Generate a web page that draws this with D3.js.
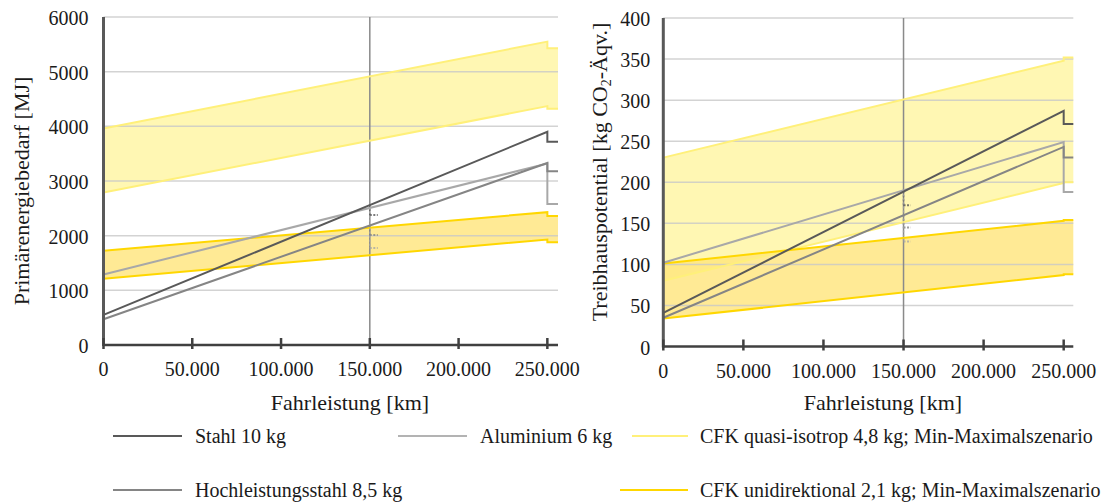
<!DOCTYPE html>
<html>
<head>
<meta charset="utf-8">
<script src="https://cdn.jsdelivr.net/npm/d3@7"></script>
<style>
  body { margin: 0; background: #fff; }
  text { font-family: "Liberation Serif", "Times New Roman", serif; fill: #1a1a1a; }
</style>
</head>
<body>
<svg id="chart" width="1109" height="503"></svg>
<script>
// x positions of the data points (km): start, end, step at end, right edge
const km = [0, 250000, 250000, 256000];
const xTicks = [0, 50000, 100000, 150000, 200000, 250000];

// Primärenergiebedarf [MJ]
const stahlPE = [550, 3900, 3720, 3720];
const hlsPE = [470, 3330, 3180, 3180];
const aluPE = [1290, 3320, 2580, 2580];
const quasiMinPE = [2790, 4370, 4320, 4320];
const quasiMaxPE = [3960, 5550, 5430, 5430];
const uniMinPE = [1210, 1930, 1880, 1880];
const uniMaxPE = [1725, 2430, 2360, 2360];
const yTicksPE = [0, 1000, 2000, 3000, 4000, 5000, 6000];
// small markers at 150.000 km: [from, to] for Stahl, Hochleistungsstahl, Aluminium
const markPE = [[2560, 2380], [2190, 2010], [2510, 1775]];

// Treibhauspotential [kg CO2-Äqv.]
const stahlGWP = [41, 287, 271, 271];
const hlsGWP = [35, 243, 230, 230];
const aluGWP = [102, 249, 188, 188];
const quasiMinGWP = [80, 199, 200, 200];
const quasiMaxGWP = [230, 348, 352, 352];
const uniMinGWP = [34, 87, 88, 88];
const uniMaxGWP = [101, 153, 154, 154];
const yTicksGWP = [0, 50, 100, 150, 200, 250, 300, 350, 400];
const markGWP = [[189, 172], [160, 145], [190, 128]];

const legendNames = [
  "Stahl 10 kg", "Aluminium 6 kg", "CFK quasi-isotrop 4,8 kg; Min-Maximalszenario",
  "Hochleistungsstahl 8,5 kg", "CFK unidirektional 2,1 kg; Min-Maximalszenario"
];

const col = {
  stahl: "#595959", hls: "#858585", alu: "#a8a8a8",
  quasiLine: "#fff07a", quasiFill: "#fff6a6",
  uniLine: "#ffd700", uniFill: "#ffe57a"
};

const svg = d3.select("#chart");
const fmt = d => d === 0 ? "0" : d3.format(",")(d).replace(/,/g, ".");

function drawPanel(o) {
  const x = d3.scaleLinear().domain([0, 256000]).range([o.left, o.right]);
  const y = d3.scaleLinear().domain([0, o.ymax]).range([o.bottom, o.top]);
  const g = svg.append("g");

  const area = (lo, hi) => d3.area()
    .x((d, i) => x(km[i]))
    .y0((d, i) => y(lo[i]))
    .y1((d, i) => y(hi[i]))(km);
  const line = vals => d3.line()
    .x((d, i) => x(km[i]))
    .y((d, i) => y(vals[i]))(km);

  // bands
  g.append("path").attr("d", area(o.quasiMin, o.quasiMax))
    .attr("fill", col.quasiFill).attr("fill-opacity", 0.85);
  g.append("path").attr("d", area(o.uniMin, o.uniMax))
    .attr("fill", col.uniFill).attr("fill-opacity", 0.8);

  // gridlines
  g.selectAll(".grid").data(o.yTicks.slice(1)).enter().append("line")
    .attr("x1", o.left).attr("x2", o.right)
    .attr("y1", d => y(d)).attr("y2", d => y(d))
    .attr("stroke", "#c8c8c8").attr("stroke-opacity", 0.8).attr("stroke-width", 1.5);
  g.append("line")
    .attr("x1", x(150000)).attr("x2", x(150000))
    .attr("y1", y(o.ymax)).attr("y2", y(0))
    .attr("stroke", "#8a8a8a").attr("stroke-width", 1.5);

  // band edges
  [[o.quasiMin, col.quasiLine], [o.quasiMax, col.quasiLine],
   [o.uniMin, col.uniLine], [o.uniMax, col.uniLine]].forEach(([v, c]) => {
    g.append("path").attr("d", line(v)).attr("fill", "none")
      .attr("stroke", c).attr("stroke-width", 2);
  });

  // markers at 150.000 km
  const markCols = [col.stahl, col.hls, col.alu];
  o.marks.forEach((m, i) => {
    g.append("line").attr("x1", x(150000)).attr("x2", x(150000))
      .attr("y1", y(m[0])).attr("y2", y(m[1]))
      .attr("stroke", markCols[i]).attr("stroke-width", 1.5)
      .attr("stroke-dasharray", "2,2").attr("stroke-opacity", 0.7);
    g.append("line").attr("x1", x(150000)).attr("x2", x(154500))
      .attr("y1", y(m[1])).attr("y2", y(m[1]))
      .attr("stroke", markCols[i]).attr("stroke-width", 2)
      .attr("stroke-dasharray", "2,1.5").attr("stroke-opacity", 0.8);
  });

  // series lines
  [[o.alu, col.alu], [o.hls, col.hls], [o.stahl, col.stahl]].forEach(([v, c]) => {
    g.append("path").attr("d", line(v)).attr("fill", "none")
      .attr("stroke", c).attr("stroke-width", 2);
  });

  // axes
  g.append("line").attr("x1", o.left).attr("x2", o.left)
    .attr("y1", y(o.ymax)).attr("y2", y(0) + 1)
    .attr("stroke", "#595959").attr("stroke-width", 3);
  g.append("line").attr("x1", o.left).attr("x2", o.right)
    .attr("y1", y(0)).attr("y2", y(0))
    .attr("stroke", "#404040").attr("stroke-width", 2.5);
  g.selectAll(".xt").data(xTicks).enter().append("line")
    .attr("x1", d => x(d)).attr("x2", d => x(d))
    .attr("y1", y(0) - 7).attr("y2", y(0) + 4)
    .attr("stroke", "#404040").attr("stroke-width", 2.5);

  g.selectAll(".xl").data(xTicks).enter().append("text")
    .attr("x", d => x(d)).attr("y", y(0) + 31)
    .attr("text-anchor", "middle").attr("font-size", 20)
    .text(fmt);
  g.selectAll(".yl").data(o.yTicks).enter().append("text")
    .attr("x", o.left - o.labelGap).attr("y", d => y(d) + 8)
    .attr("text-anchor", "end").attr("font-size", 20)
    .text(d => d);

  g.append("text").attr("x", o.xTitleX).attr("y", 410)
    .attr("text-anchor", "middle").attr("font-size", 22)
    .text("Fahrleistung [km]");
  o.yTitle(g);
}

drawPanel({
  left: 103.5, right: 558, top: 17, bottom: 345, ymax: 6000, labelGap: 15,
  yTicks: yTicksPE, xTitleX: 350,
  stahl: stahlPE, hls: hlsPE, alu: aluPE,
  quasiMin: quasiMinPE, quasiMax: quasiMaxPE, uniMin: uniMinPE, uniMax: uniMaxPE,
  marks: markPE,
  yTitle: g => g.append("text")
    .attr("transform", "translate(29,191) rotate(-90)")
    .attr("text-anchor", "middle").attr("font-size", 22)
    .text("Primärenergiebedarf [MJ]")
});

drawPanel({
  left: 663.3, right: 1073.3, top: 18, bottom: 346.5, ymax: 400, labelGap: 13,
  yTicks: yTicksGWP, xTitleX: 883,
  stahl: stahlGWP, hls: hlsGWP, alu: aluGWP,
  quasiMin: quasiMinGWP, quasiMax: quasiMaxGWP, uniMin: uniMinGWP, uniMax: uniMaxGWP,
  marks: markGWP,
  yTitle: g => {
    const t = g.append("text")
      .attr("transform", "translate(607,172) rotate(-90)")
      .attr("text-anchor", "middle").attr("font-size", 22);
    t.append("tspan").text("Treibhauspotential [kg CO");
    t.append("tspan").attr("font-size", 14).attr("dy", 4).text("2");
    t.append("tspan").attr("dy", -4).text("-Äqv.]");
  }
});

// legend
const legendLayout = [
  { x1: 113, x2: 182, tx: 195, y: 436, c: col.stahl },
  { x1: 398, x2: 467, tx: 480, y: 436, c: "#b3b3b3" },
  { x1: 632, x2: 688, tx: 700, y: 436, c: col.quasiLine },
  { x1: 113, x2: 182, tx: 195, y: 490, c: col.hls },
  { x1: 620, x2: 688, tx: 700, y: 490, c: col.uniLine }
];
const leg = svg.append("g");
legendNames.forEach((name, i) => {
  const p = legendLayout[i];
  leg.append("line").attr("x1", p.x1).attr("x2", p.x2)
    .attr("y1", p.y).attr("y2", p.y)
    .attr("stroke", p.c).attr("stroke-width", 2);
  leg.append("text").attr("x", p.tx).attr("y", p.y + 7)
    .attr("font-size", 20).text(name);
});
</script>
</body>
</html>
